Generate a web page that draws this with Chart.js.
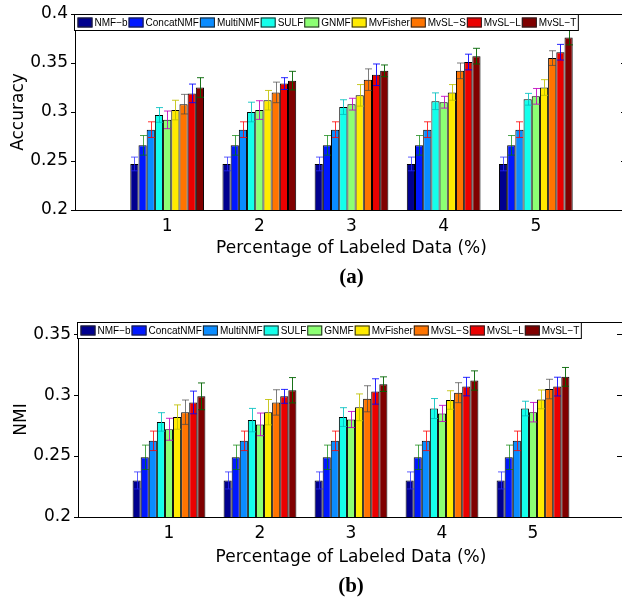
<!DOCTYPE html>
<html><head><meta charset="utf-8">
<script src="https://cdn.jsdelivr.net/npm/chart.js@4.4.0/dist/chart.umd.min.js"></script>
<style>
html,body{margin:0;padding:0;background:#fff;overflow:hidden;width:622px;height:602px;}
#wa{position:absolute;left:0;top:0;width:628px;height:300px;}
#wb{position:absolute;left:0;top:300px;width:624px;height:302px;}
</style></head><body>
<div id="wa"><canvas id="ca" width="628" height="300"></canvas></div>
<div id="wb"><canvas id="cb" width="624" height="302"></canvas></div>
<script>
// ---------- data ----------
const methods = ['NMF\u2212b','ConcatNMF','MultiNMF','SULF','GNMF','MvFisher','MvSL\u2212S','MvSL\u2212L','MvSL\u2212T'];
const percentages = [1, 2, 3, 4, 5];
const accTicks = [0.2, 0.25, 0.3, 0.35, 0.4];
const nmiTicks = [0.2, 0.25, 0.3, 0.35];

// (a) Accuracy: mean values per method across 1..5 % labeled data
const accNMFb     = [0.247, 0.247, 0.247, 0.247, 0.247];
const accConcat   = [0.266, 0.266, 0.266, 0.266, 0.266];
const accMulti    = [0.282, 0.282, 0.282, 0.282, 0.282];
const accSULF     = [0.297, 0.300, 0.305, 0.311, 0.313];
const accGNMF     = [0.292, 0.302, 0.308, 0.310, 0.316];
const accMvFisher = [0.302, 0.312, 0.317, 0.320, 0.325];
const accMvSLS    = [0.308, 0.320, 0.333, 0.342, 0.355];
const accMvSLL    = [0.319, 0.329, 0.338, 0.351, 0.361];
const accMvSLT    = [0.325, 0.332, 0.342, 0.357, 0.376];
// (a) Accuracy: standard deviations
const accErrNMFb     = [0.007, 0.007, 0.007, 0.007, 0.007];
const accErrConcat   = [0.010, 0.010, 0.010, 0.010, 0.010];
const accErrMulti    = [0.008, 0.008, 0.008, 0.008, 0.008];
const accErrSULF     = [0.0075, 0.010, 0.0075, 0.0085, 0.006];
const accErrGNMF     = [0.009, 0.0095, 0.006, 0.006, 0.008];
const accErrMvFisher = [0.010, 0.010, 0.011, 0.008, 0.008];
const accErrMvSLS    = [0.010, 0.0105, 0.011, 0.008, 0.0075];
const accErrMvSLL    = [0.0095, 0.006, 0.011, 0.008, 0.008];
const accErrMvSLT    = [0.010, 0.0095, 0.006, 0.008, 0.0075];

// (b) NMI: mean values
const nmiNMFb     = [0.230, 0.230, 0.230, 0.230, 0.230];
const nmiConcat   = [0.249, 0.249, 0.249, 0.249, 0.249];
const nmiMulti    = [0.2625, 0.2625, 0.2625, 0.2625, 0.2625];
const nmiSULF     = [0.278, 0.2795, 0.282, 0.289, 0.289];
const nmiGNMF     = [0.272, 0.276, 0.280, 0.285, 0.286];
const nmiMvFisher = [0.282, 0.286, 0.290, 0.296, 0.2965];
const nmiMvSLS    = [0.286, 0.294, 0.297, 0.302, 0.305];
const nmiMvSLL    = [0.294, 0.299, 0.303, 0.307, 0.307];
const nmiMvSLT    = [0.299, 0.304, 0.309, 0.312, 0.315];
// (b) NMI: standard deviations
const nmiErrNMFb     = [0.007, 0.007, 0.007, 0.007, 0.007];
const nmiErrConcat   = [0.010, 0.010, 0.010, 0.010, 0.010];
const nmiErrMulti    = [0.008, 0.008, 0.008, 0.008, 0.008];
const nmiErrSULF     = [0.0076, 0.0096, 0.0077, 0.0082, 0.006];
const nmiErrGNMF     = [0.009, 0.0093, 0.0066, 0.0066, 0.008];
const nmiErrMvFisher = [0.010, 0.0104, 0.011, 0.0076, 0.0077];
const nmiErrMvSLS    = [0.010, 0.0104, 0.0107, 0.0082, 0.008];
const nmiErrMvSLL    = [0.0093, 0.0057, 0.0104, 0.0076, 0.0077];
const nmiErrMvSLT    = [0.011, 0.0104, 0.006, 0.0079, 0.0077];

// ---------- styles ----------
const barColors = ['#00008F','#0018FF','#0A8CFF','#14FFEB','#8CFF73','#FFEB00','#FF7400','#EB0000','#800000'];
const errColors = ['rgba(40,40,255,0.75)','rgba(0,128,0,0.7)','rgba(255,0,0,0.8)','rgba(0,191,191,0.85)',
                   'rgba(191,0,191,0.85)','rgba(191,191,0,0.85)','rgba(70,70,70,0.7)','rgba(0,0,255,0.85)','rgba(0,100,0,0.9)'];
const SANS = '"DejaVu Sans", sans-serif';

const overlay = {
  id: 'overlay',
  afterDraw(chart, args, opts) {
    const ctx = chart.ctx, a = chart.chartArea, yS = chart.scales.y;
    ctx.save();
    // error bars
    chart.data.datasets.forEach((ds, i) => {
      const meta = chart.getDatasetMeta(i);
      ctx.strokeStyle = errColors[i];
      ctx.lineWidth = 1;
      meta.data.forEach((el, j) => {
        const v = ds.data[j].y, e = ds.err[j];
        const x = Math.round(el.x) + 0.5;
        const yt = yS.getPixelForValue(v + e), yb = yS.getPixelForValue(v - e);
        ctx.beginPath();
        ctx.moveTo(x, yt); ctx.lineTo(x, yb);
        ctx.moveTo(x - 3.5, yt); ctx.lineTo(x + 3.5, yt);
        ctx.moveTo(x - 3.5, yb); ctx.lineTo(x + 3.5, yb);
        ctx.stroke();
      });
    });
    // frame
    ctx.strokeStyle = '#000'; ctx.lineWidth = 1;
    ctx.strokeRect(a.left + 0.5, a.top + 0.5, a.right - a.left - 1, a.bottom - a.top);
    // right inner ticks
    ctx.beginPath();
    opts.ticks.forEach(v => {
      const y = Math.round(yS.getPixelForValue(v)) + 0.5;
      ctx.moveTo(a.right - 7, y); ctx.lineTo(a.right, y);
    });
    ctx.stroke();
    // legend
    ctx.font = '10px "Liberation Sans", Arial, sans-serif';
    const items = chart.data.datasets.map((ds, i) => ({label: ds.label, color: barColors[i], w: ctx.measureText(ds.label).width}));
    const sw = 15, gap = 2, gap2 = 1, h = 16;
    let total = 3;
    items.forEach(it => { total += sw + gap + it.w + gap2; });
    total += 1;
    const lx = a.left - 0.5, ly = a.top + 0.5;
    ctx.fillStyle = '#fff';
    ctx.fillRect(lx, ly, total, h);
    ctx.strokeStyle = '#000';
    ctx.strokeRect(lx, ly, total, h);
    let x = lx + 3;
    ctx.textBaseline = 'middle'; ctx.textAlign = 'left';
    items.forEach(it => {
      ctx.fillStyle = it.color;
      ctx.fillRect(x, ly + 3, sw, 10);
      ctx.strokeStyle = '#222';
      ctx.strokeRect(x + 0.5, ly + 3.5, sw - 1, 9);
      ctx.fillStyle = '#000';
      ctx.fillText(it.label, x + sw + gap, ly + h / 2 + 0.5);
      x += sw + gap + it.w + gap2;
    });
    // caption
    ctx.font = 'bold 21px "Liberation Serif", "Times New Roman", serif';
    ctx.textAlign = 'center'; ctx.textBaseline = 'middle';
    ctx.fillText(opts.caption, (a.left + a.right) / 2, opts.captionY);
    ctx.restore();
  }
};

function makeChart(id, vals, errs, ticks, yMax, yLabel, caption, g) {
  return new Chart(document.getElementById(id), {
    type: 'bar',
    data: {
      datasets: methods.map((m, i) => ({
        label: m,
        data: percentages.map((p, j) => ({x: p, y: vals[i][j]})),
        err: errs[i],
        backgroundColor: barColors[i],
        borderColor: '#000',
        borderWidth: 1,
        categoryPercentage: 0.8,
        barPercentage: 1.0
      }))
    },
    options: {
      responsive: false, animation: false, devicePixelRatio: 1,
      layout: {padding: {left: 0, right: 0, top: g.top, bottom: 0}},
      plugins: {legend: {display: false}, tooltip: {enabled: false}, overlay: {ticks: ticks, caption: caption, captionY: g.capY}},
      scales: {
        x: {
          type: 'linear', min: 0, max: 6, offset: false,
          grid: {display: false, drawTicks: false},
          border: {display: false},
          afterBuildTicks: s => { s.ticks = percentages.map(v => ({value: v})); },
          afterFit: s => { s.height = g.xh; },
          ticks: {color: '#000', font: {family: SANS, size: 17}, padding: 6, callback: v => String(v)},
          title: {display: true, text: 'Percentage of Labeled Data (%)', color: '#000',
                  font: {family: SANS, size: 17}, padding: {top: 0, bottom: g.tpb}}
        },
        y: {
          min: 0.2, max: yMax,
          afterBuildTicks: s => { s.ticks = ticks.map(v => ({value: v})); },
          afterFit: s => { s.width = g.left; },
          grid: {display: true, drawOnChartArea: false, drawTicks: true, tickLength: 4, color: '#000'},
          border: {display: false},
          ticks: {color: '#000', font: {family: SANS, size: 17}, padding: 3, callback: v => String(+v.toFixed(2))},
          title: {display: true, text: yLabel, color: '#000', font: {family: SANS, size: 17}, padding: {top: g.ytp, bottom: 0}}
        }
      }
    },
    plugins: [overlay]
  });
}

makeChart('ca',
  [accNMFb, accConcat, accMulti, accSULF, accGNMF, accMvFisher, accMvSLS, accMvSLL, accMvSLT],
  [accErrNMFb, accErrConcat, accErrMulti, accErrSULF, accErrGNMF, accErrMvFisher, accErrMvSLS, accErrMvSLL, accErrMvSLT],
  accTicks, 0.4, 'Accuracy', '(a)',
  {top: 14, xh: 90, tpb: 40.8, left: 75, capY: 278, ytp: 8});

makeChart('cb',
  [nmiNMFb, nmiConcat, nmiMulti, nmiSULF, nmiGNMF, nmiMvFisher, nmiMvSLS, nmiMvSLL, nmiMvSLT],
  [nmiErrNMFb, nmiErrConcat, nmiErrMulti, nmiErrSULF, nmiErrGNMF, nmiErrMvFisher, nmiErrMvSLS, nmiErrMvSLL, nmiErrMvSLT],
  nmiTicks, 0.36, 'NMI', '(b)',
  {top: 22, xh: 85, tpb: 33.8, left: 78, capY: 287, ytp: 11});
</script>
</body></html>
